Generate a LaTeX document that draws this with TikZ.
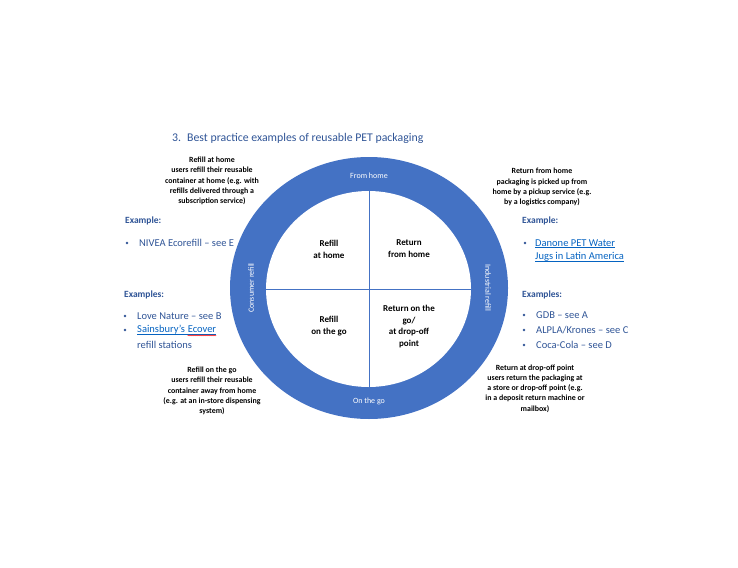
\documentclass[tikz,border=0pt]{standalone}
\usepackage{fontspec}
\setmainfont{Carlito}
\usetikzlibrary{decorations.pathmorphing}
\definecolor{ringblue}{RGB}{68,114,196}
\definecolor{headblue}{RGB}{47,84,150}
\definecolor{linkblue}{RGB}{5,99,193}

\begin{document}
\begin{tikzpicture}[x=1pt,y=-1pt,
  note/.style={align=center,font=\bfseries\fontsize{7.9}{10.2}\selectfont,inner sep=0pt},
  cell/.style={align=center,font=\bfseries\fontsize{9}{11.8}\selectfont,inner sep=0pt},
  band/.style={text=white,font=\fontsize{8}{10}\selectfont,inner sep=0pt},
  head/.style={anchor=west,text=headblue,font=\bfseries\fontsize{9.5}{11}\selectfont,inner sep=0pt},
  item/.style={anchor=west,text=headblue,font=\fontsize{10.5}{12}\selectfont,inner sep=0pt},
  link/.style={item,text=linkblue},
  dot/.style={circle,fill=headblue,inner sep=0pt,minimum size=2.6pt}]
      \useasboundingbox (0,0) rectangle (738,567);
      % title
      \node[anchor=west,text=headblue,font=\fontsize{11.8}{14}\selectfont,inner sep=0pt] (num) at (172,138) {3.};
      \node[anchor=west,text=headblue,font=\fontsize{11.8}{14}\selectfont,inner sep=0pt] (title) at (187,138) {Best practice examples of reusable PET packaging};
      % ring
      \coordinate (c) at (369,288);
      \fill[ringblue] (c) ellipse [x radius=139, y radius=131];
      \fill[white] (368.5,289) ellipse [x radius=102.5, y radius=98];
      \coordinate (w) at (266,289);
      \coordinate (e) at (471,289);
      \coordinate (n) at (369,191);
      \coordinate (s) at (369,387);
      \draw[ringblue,thin] (w) -- (e);
      \draw[ringblue,thin] (n) -- (s);
      \node[band] (fromhome) at (369,175.5) {From home};
      \node[band] (onthego) at (369,401) {On the go};
      \node[band,rotate=90] (consumer) at (251,288) {Consumer refill};
      \node[band,rotate=-90] (industrial) at (488,288) {Industrial refill};
      % quadrants
      \node[cell] (q1) at (329,249) {Refill\\at home};
      \node[cell] (q2) at (409,249) {Return\\from home};
      \node[cell] (q3) at (329,326) {Refill\\on the go};
      \node[cell] (q4) at (409,326.5) {Return on the\\go/\\at drop-off\\point};
      % notes round the ring
      \node[note] (nw) at (212,181) {Refill at home\\users refill their reusable\\container at home (e.g. with\\refills delivered through a\\subscription service)};
      \node[note] (ne) at (542,187) {Return from home\\packaging is picked up from\\home by a pickup service (e.g.\\by a logistics company)};
      \node[note] (sw) at (212,391) {Refill on the go\\users refill their reusable\\container away from home\\(e.g. at an in-store dispensing\\system)};
      \node[note] (se) at (535,388.5) {Return at drop-off point\\users return the packaging at\\a store or drop-off point (e.g.\\in a deposit return machine or\\mailbox)};
      % examples left
      \node[head] (exl1) at (125,221) {Example:};
      \node[dot] (b1) at (127,243) {};
      \node[item] (nivea) at (139,243) {NIVEA Ecorefill -- see E};
      \node[head] (exl2) at (124,295) {Examples:};
      \node[dot] (b2) at (125,316) {};
      \node[item] (love) at (137,316) {Love Nature -- see B};
      \node[dot] (b3) at (125,330) {};
      \node[link] (sains) at (137,330) {Sainsbury's};
      \node[link,anchor=base west] (ecover) at ([xshift=2.4pt]sains.base east) {Ecover};
      \node[item] (refst) at (137,345) {refill stations};
      \draw[linkblue,line width=0.5pt] ([yshift=-1.4pt]sains.base west) -- ([yshift=-1.4pt]ecover.base east);
      \draw[red,line width=0.4pt,decorate,decoration={snake,amplitude=0.5pt,segment length=2pt}] ([yshift=-2.6pt]ecover.base west) -- ([yshift=-2.6pt]ecover.base east);
      % examples right
      \node[head] (exr1) at (522,221) {Example:};
      \node[dot] (b4) at (525,243) {};
      \node[link] (danone1) at (535,243) {Danone PET Water};
      \node[link] (danone2) at (535,257) {Jugs in Latin America};
      \draw[linkblue,line width=0.5pt] ([yshift=-1.4pt]danone1.base west) -- ([yshift=-1.4pt]danone1.base east);
      \draw[linkblue,line width=0.5pt] ([yshift=-1.4pt]danone2.base west) -- ([yshift=-1.4pt]danone2.base east);
      \node[head] (exr2) at (522,295) {Examples:};
      \node[dot] (b5) at (524,315) {};
      \node[item] (gdb) at (536,315) {GDB -- see A};
      \node[dot] (b6) at (524,330) {};
      \node[item] (alpla) at (536,330) {ALPLA/Krones -- see C};
      \node[dot] (b7) at (524,345) {};
      \node[item] (coca) at (536,345) {Coca-Cola -- see D};
    \end{tikzpicture}
\end{document}
